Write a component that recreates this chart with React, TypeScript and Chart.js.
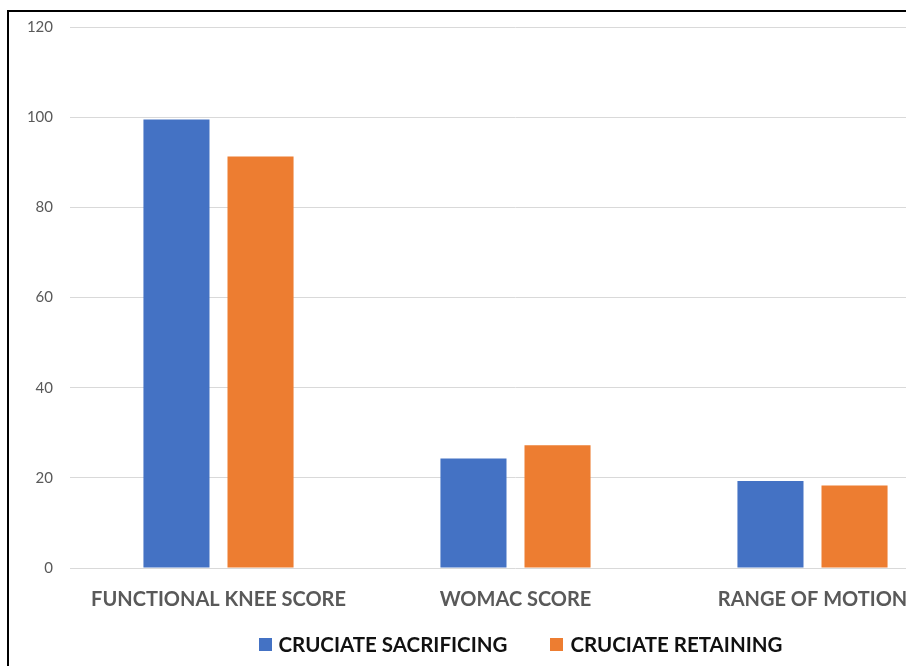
import React, { useEffect, useRef } from "react";
import { Chart, registerables } from "chart.js";

Chart.register(...registerables);

const categories = ["FUNCTIONAL KNEE SCORE", "WOMAC SCORE", "RANGE OF MOTION"];
const seriesNames = ["CRUCIATE SACRIFICING", "CRUCIATE RETAINING"];
const sacrificing = [99.5, 24.3, 19.3];
const retaining = [91.3, 27.2, 18.3];
const yMin = 0;
const yMax = 120;
const yStep = 20;

const FONT = "Lato, 'Open Sans', sans-serif";
const CANVAS_W = 1000;
const CANVAS_H = 666;
const LEGEND_CX = 520.5;
const LEGEND_CY = 645;

const legendPlugin = {
  id: "bottomLegend",
  afterDraw(chart: any) {
    const ctx = chart.ctx as CanvasRenderingContext2D;
    ctx.save();
    ctx.font = `bold 20.5px ${FONT}`;
    const box = 13;
    const gapBox = 7;
    const gapItem = 43;
    const items = chart.data.datasets.map((ds: any) => ({
      text: String(ds.label),
      color: ds.backgroundColor,
      w: ctx.measureText(String(ds.label)).width,
    }));
    const total =
      items.reduce((s: number, it: any) => s + box + gapBox + it.w, 0) +
      gapItem * (items.length - 1);
    let x = LEGEND_CX - total / 2;
    ctx.textBaseline = "middle";
    ctx.textAlign = "left";
    items.forEach((it: any) => {
      ctx.fillStyle = it.color;
      ctx.fillRect(Math.round(x), Math.round(LEGEND_CY - 1 - box / 2), box, box);
      x += box + gapBox;
      ctx.fillStyle = "#111111";
      ctx.fillText(it.text, x, LEGEND_CY);
      x += it.w + gapItem;
    });
    ctx.restore();
  },
};

export default function App() {
  const ref = useRef<HTMLCanvasElement | null>(null);

  useEffect(() => {
    if (!ref.current) return;
    const chart = new Chart(ref.current, {
      type: "bar",
      data: {
        labels: categories,
        datasets: [
          {
            label: seriesNames[0],
            data: sacrificing,
            backgroundColor: "#4472C4",
            borderColor: "#4472C4",
            borderWidth: 0,
            categoryPercentage: 0.566,
            barPercentage: 0.786,
          },
          {
            label: seriesNames[1],
            data: retaining,
            backgroundColor: "#ED7D31",
            borderColor: "#ED7D31",
            borderWidth: 0,
            categoryPercentage: 0.566,
            barPercentage: 0.786,
          },
        ],
      },
      options: {
        responsive: false,
        animation: false,
        devicePixelRatio: 1,
        layout: { padding: { top: 27, right: CANVAS_W - 961, left: 0, bottom: 48 } },
        plugins: {
          tooltip: { enabled: false },
          title: { display: false },
          legend: { display: false },
        },
        scales: {
          x: {
            grid: { display: false, drawTicks: false },
            border: { display: false },
            afterFit: (scale: any) => {
              scale.height = 50;
            },
            ticks: {
              color: "#595959",
              font: { family: FONT, size: 20, weight: "bold" },
              padding: 20,
              maxRotation: 0,
              autoSkip: false,
            },
          },
          y: {
            min: yMin,
            max: yMax,
            afterFit: (scale: any) => {
              scale.width = 70;
            },
            grid: { color: "#d9d9d9", lineWidth: 1, drawTicks: false },
            border: { display: false },
            ticks: {
              stepSize: yStep,
              color: "#595959",
              padding: 17,
              font: { family: FONT, size: 15 },
            },
          },
        },
      },
      plugins: [legendPlugin],
    });
    return () => chart.destroy();
  }, []);

  return (
    <div
      style={{
        position: "fixed",
        left: 0,
        top: 0,
        width: 906,
        height: 666,
        overflow: "hidden",
        background: "#ffffff",
      }}
    >
      <canvas
        ref={ref}
        width={CANVAS_W}
        height={CANVAS_H}
        style={{ position: "absolute", left: 0, top: 0, width: CANVAS_W, height: CANVAS_H }}
      />
      <div
        style={{
          position: "absolute",
          left: 7,
          top: 10,
          width: 906,
          height: 666,
          borderLeft: "2px solid #000",
          borderTop: "2px solid #000",
          boxSizing: "border-box",
        }}
      />
    </div>
  );
}
